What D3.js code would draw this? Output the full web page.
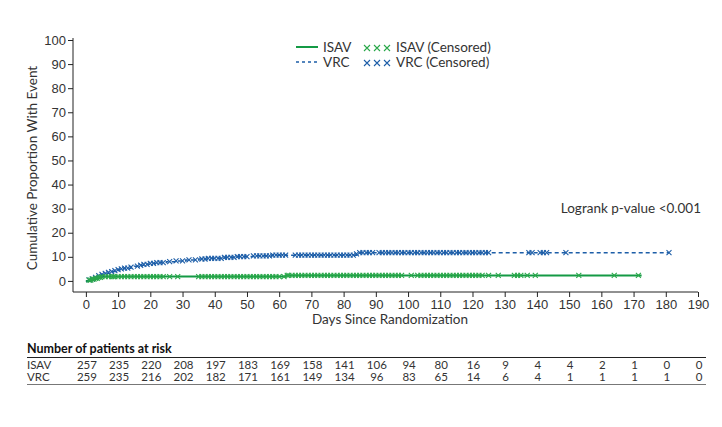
<!DOCTYPE html>
<html>
<head>
<meta charset="utf-8">
<style>
	body { margin:0; background:#fff; }
	svg { font-family: "Lato", "Liberation Sans", sans-serif; }
	.axis path, .axis line { stroke:#222; }
	.axis text { fill:#333; font-size:13px; }
	.lbl { fill:#333; font-size:13.5px; }
	.risk { fill:#333; font-size:11.5px; }
</style>
<script src="https://cdn.jsdelivr.net/npm/d3@7"></script>
</head>
<body>
<svg width="722" height="427"></svg>
<script>
var xTicks = d3.range(0, 191, 10),
	yTicks = d3.range(0, 101, 10);

// KM step points [day, cumulative %]
var isavSteps = [[0,0],[1,0.3],[2,0.7],[3,1.1],[4,1.5],[5,1.8],[62,2.3],[172.5,2.3]];
var vrcSteps = [[0,0],[1,0.4],[2,0.8],[3,1.5],[4,2.2],[5,2.7],[6,3.1],[7,3.5],[8,3.9],[9,4.3],[10,4.7],[11,5.0],[12,5.3],[14,5.7],[15,6.1],[17,6.5],[18,6.9],[20,7.3],[22,7.6],[25,8.0],[28,8.3],[31,8.7],[35,9.1],[38,9.4],[43,9.8],[47,10.1],[52,10.4],[58,10.7],[84,11.2],[85,11.7],[181,11.7]];

// censored times (days)
var isavCens = [1,1.5,2,2.5,3,3.5,4,4.5,5,6,7,8,8.5,9,10,11,12,13,14,15,16,17,18,19,20,21,22,23,24,26,28.5,35,36,37,38,39,40,41,42,43,44,45,46,47,48,49,50,51,52,53,54,55,56,57,58,59,60,61.5,62.5,63,64,65,66,67,68,69,70,71,72,73,74,75,76,77,78,79,80,81,82,83,84,85,86,87,88,89,90,91,92,93,94,95,96,97,98,101,103,104,105,106,107,108,109,110,111,112,113,114,115,116,117,118,119,120,121,122,123,125,128,133,134,135,137,139.5,153,164,171.5];
var vrcCens = [1,2,3,4,5,6,7,8,9,10,11,12,13,14,16,17,18,19,20,21,22,23,24,26,28,30,32,34,36,37,38,39,40,41,42,43,44,45,46,47,48,49,50,52,53,54,55,56,57,58,59,60,61,62,65,66,67,68,69,70,71,72,73,74,75,76,77,78,79,80,81,82,83,84,85,86,87,88,89,91,92,93,94,95,96,97,98,99,100,101,102,103,104,105,106,107,108,109,110,111,112,113,114,115,116,117,118,119,120,121,122,123,124,125,137.5,138.5,141,142,143,149,181];

var riskGroups = ["ISAV", "VRC"];
var isavRisk = [257,235,220,208,197,183,169,158,141,106,94,80,16,9,4,4,2,1,0,0];
var vrcRisk = [259,235,216,202,182,171,161,149,134,96,83,65,14,6,4,1,1,1,1,0];

var green = "#149a45", blue = "#1d5ea8", greenX = "#2aa84a";

var svg = d3.select("svg");
var x = d3.scaleLinear().domain([-4, 190]).range([73, 698]);
var y = d3.scaleLinear().domain([-4.6, 100]).range([292, 40]);

// axes
svg.append("g").attr("class","axis").attr("transform","translate(0,292)")
	.call(d3.axisBottom(x).tickValues(xTicks).tickSizeOuter(0).tickSize(5).tickPadding(3));
svg.append("g").attr("class","axis").attr("transform","translate(73,0)")
	.call(d3.axisLeft(y).tickValues(yTicks).tickSizeOuter(0).tickSize(5).tickPadding(2));
svg.selectAll(".axis .domain").attr("d", function() {
	return d3.select(this.parentNode).attr("transform") == "translate(0,292)" ? "M73,0H698" : "M0,38V292";
});

svg.append("text").attr("class","lbl").attr("x",390).attr("y",324).attr("text-anchor","middle").text("Days Since Randomization");
svg.append("text").attr("class","lbl").attr("transform","translate(37,168) rotate(-90)").attr("text-anchor","middle").text("Cumulative Proportion With Event");
svg.append("text").attr("class","lbl").attr("x",701).attr("y",213).attr("text-anchor","end").text("Logrank p-value <0.001");

var line = d3.line().curve(d3.curveStepAfter).x(d => x(d[0])).y(d => y(d[1]));
function stepVal(steps, t) {
	var v = 0;
	steps.forEach(function(s) { if (s[0] <= t) v = s[1]; });
	return v;
}
function xMark(cx, cy, r) {
	return "M"+(cx-r)+","+(cy-r)+"L"+(cx+r)+","+(cy+r)+"M"+(cx-r)+","+(cy+r)+"L"+(cx+r)+","+(cy-r);
}
function cross(g, data, steps, col) {
	g.selectAll("path.c").data(data).enter().append("path")
		.attr("d", t => xMark(x(t), y(stepVal(steps, t)), 2.5))
		.attr("stroke", col).attr("stroke-width", 1.1).attr("fill","none");
}

var plot = svg.append("g");
plot.append("path").datum(vrcSteps).attr("d", line).attr("fill","none").attr("stroke",blue).attr("stroke-width",1.5).attr("stroke-dasharray","4,3");
plot.append("path").datum(isavSteps).attr("d", line).attr("fill","none").attr("stroke",green).attr("stroke-width",2);
cross(plot.append("g"), vrcCens, vrcSteps, blue);
cross(plot.append("g"), isavCens, isavSteps, greenX);

// legend
var leg = svg.append("g");
leg.append("line").attr("x1",296).attr("x2",318).attr("y1",47).attr("y2",47).attr("stroke",green).attr("stroke-width",2);
leg.append("line").attr("x1",296).attr("x2",318).attr("y1",62).attr("y2",62).attr("stroke",blue).attr("stroke-width",1.5).attr("stroke-dasharray","3,3");
leg.append("text").attr("class","lbl").attr("x",323).attr("y",52).text("ISAV");
leg.append("text").attr("class","lbl").attr("x",323).attr("y",67).text("VRC");
[[47, greenX], [62, blue]].forEach(function(r) {
	leg.append("g").selectAll("path").data([367, 377, 387]).enter().append("path")
		.attr("d", d => xMark(d, r[0] + 1, 3)).attr("stroke", r[1]).attr("stroke-width", 1.1).attr("fill","none");
});
leg.append("text").attr("class","lbl").attr("x",396).attr("y",52).text("ISAV (Censored)");
leg.append("text").attr("class","lbl").attr("x",396).attr("y",67).text("VRC (Censored)");

// risk table
svg.append("text").attr("x",27).attr("y",353).attr("font-size","12.5px").attr("font-weight","bold").attr("fill","#111").text("Number of patients at risk");
svg.append("line").attr("x1",27).attr("x2",706).attr("y1",357.5).attr("y2",357.5).attr("stroke","#222");
svg.append("line").attr("x1",27).attr("x2",706).attr("y1",384.5).attr("y2",384.5).attr("stroke","#777");
[isavRisk, vrcRisk].forEach(function(row, i) {
	var ry = 369 + i * 11.5;
	svg.append("text").attr("class","risk").attr("x",27).attr("y",ry).text(riskGroups[i]);
	svg.append("g").selectAll("text").data(row).enter().append("text")
		.attr("class","risk")
		.attr("x", (d, j) => x(xTicks[j]) + 1).attr("y", ry).attr("text-anchor","middle").text(d => d);
});
</script>
</body>
</html>
